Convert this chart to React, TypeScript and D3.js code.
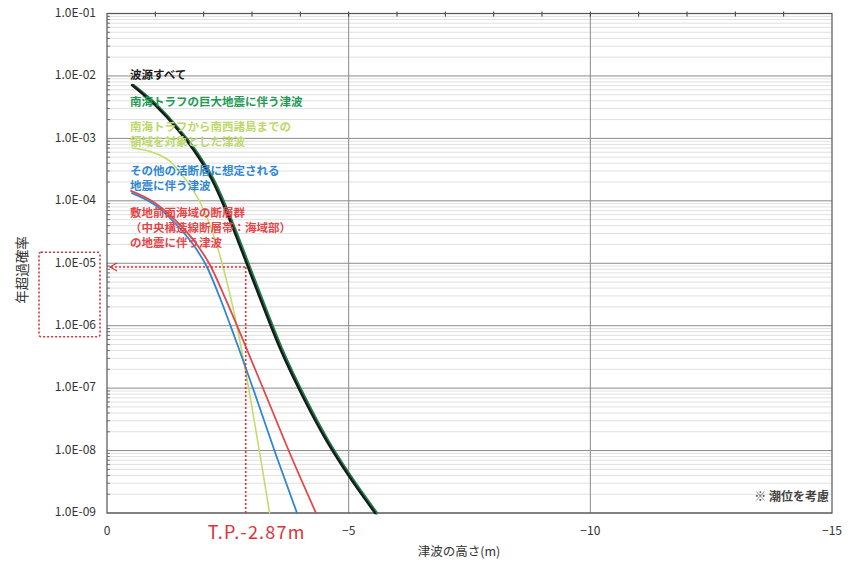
import React from "react";
import * as d3 from "d3";

const W = 848, H = 561;

// Tick labels
const yTicks = [1e-1, 1e-2, 1e-3, 1e-4, 1e-5, 1e-6, 1e-7, 1e-8, 1e-9];
const yTickLabels = ["1.0E-01", "1.0E-02", "1.0E-03", "1.0E-04", "1.0E-05", "1.0E-06", "1.0E-07", "1.0E-08", "1.0E-09"];
const xTicks = [0, -5, -10, -15];
const xTickLabels = ["0", "\u22125", "\u221210", "\u221215"];

// Series (tsunami height in m, annual exceedance probability)
const allH = [-0.517, -0.993, -1.469, -1.862, -2.173, -2.454, -2.702, -2.917, -3.18, -3.594, -4.086, -4.531, -4.96, -5.545];
const allP = [7.16e-3, 3.43e-3, 1.36e-3, 5.42e-4, 2.16e-4, 7.13e-5, 2.36e-5, 8.7e-6, 2.58e-6, 4.07e-7, 6.45e-8, 1.48e-8, 4.38e-9, 1.0e-9];

const nankaiH = [-0.547, -1.023, -1.499, -1.892, -2.203, -2.484, -2.732, -2.947, -3.21, -3.624, -4.116, -4.561, -4.99, -5.575];
const nankaiP = [7.0e-3, 3.4e-3, 1.35e-3, 5.4e-4, 2.15e-4, 7.1e-5, 2.35e-5, 8.7e-6, 2.58e-6, 4.07e-7, 6.45e-8, 1.48e-8, 4.38e-9, 1.0e-9];

const ryukyuH = [-0.538, -1.241, -1.635, -1.933, -2.191, -2.487, -2.717, -2.973, -3.184, -3.364];
const ryukyuP = [7.0e-4, 4.68e-4, 2.15e-4, 9.22e-5, 3.05e-5, 4.83e-6, 7.64e-7, 6.46e-8, 7.07e-9, 1.0e-9];

const otherH = [-0.517, -0.993, -1.407, -1.759, -2.069, -2.338, -2.648, -3.083, -3.497, -3.931];
const otherP = [1.33e-4, 8.57e-5, 4.41e-5, 2.11e-5, 8.71e-6, 2.78e-6, 6.36e-7, 7.21e-8, 8.49e-9, 1.0e-9];

const mtlH = [-0.497, -0.993, -1.448, -1.821, -2.131, -2.462, -2.814, -3.311, -3.807, -4.324];
const mtlP = [1.44e-4, 9.22e-5, 4.58e-5, 2.19e-5, 9.37e-6, 2.58e-6, 5.9e-7, 6.95e-8, 8.18e-9, 1.0e-9];

// Legend labels (lines per entry)
const legendLines = [
  ["波源すべて"],
  ["南海トラフの巨大地震に伴う津波"],
  ["南海トラフから南西諸島までの", "領域を対象とした津波"],
  ["その他の活断層に想定される", "地震に伴う津波"],
  ["敷地前面海域の断層群", "（中央構造線断層帯：海域部）", "の地震に伴う津波"],
];

// Annotation values
const targetH = -2.87;
const targetP = 8.7e-6;
const targetLabel = "T.P.-2.87m";
const noteLabel = "※ 潮位を考慮";
const xTitle = "津波の高さ(m)";
const yTitle = "年超過確率";

const FONT = "'Noto Sans CJK JP', 'Noto Sans', sans-serif";

export default function App() {
  const left = 107, right = 832, top = 13.5, bottom = 513;
  const x = d3.scaleLinear().domain([0, -15]).range([left, right]);
  const y = d3.scaleLog().domain([1e-1, 1e-9]).range([top, bottom]);

  const mk = (hs: number[], ps: number[]) => {
    const pts = hs.map((h, i) => [h, ps[i]] as [number, number]);
    return d3.line<[number, number]>().x(d => x(d[0])).y(d => y(d[1])).curve(d3.curveMonotoneX)(pts) || "";
  };

  const minor: number[] = [];
  for (let e = -9; e < -1; e++) {
    for (let m = 2; m <= 9; m++) minor.push(m * Math.pow(10, e));
  }
  const meterTicks = d3.range(-1, -15, -1);

  const series = [
    { h: ryukyuH, p: ryukyuP, color: "#c4dc6c", w: 1.6 },
    { h: otherH, p: otherP, color: "#2f86d2", w: 1.8 },
    { h: mtlH, p: mtlP, color: "#e4474a", w: 1.8 },
    { h: nankaiH, p: nankaiP, color: "#1e7d4a", w: 3.2 },
    { h: allH, p: allP, color: "#1a1a1a", w: 2.4 },
  ];

  const legendColors = ["#1a1a1a", "#1e9a55", "#bcd86a", "#2f86d2", "#e4474a"];
  const legendY = [76, 103, 128, 172, 214];

  const tx = x(targetH), ty = y(targetP);
  const red = "#d9343a";

  return (
    <svg width={W} height={H} style={{ position: "absolute", left: 0, top: 0, background: "#fff", fontFamily: FONT }}>
      <rect x={0} y={0} width={W} height={H} fill="#fff" />
      {/* minor grid */}
      {minor.map((v, i) => (
        <line key={"mn" + i} x1={left} x2={right} y1={y(v)} y2={y(v)} stroke="#d8d8d8" strokeWidth={0.8} />
      ))}
      {/* major grid */}
      {yTicks.map((v, i) => (
        <line key={"mj" + i} x1={left} x2={right} y1={y(v)} y2={y(v)} stroke="#8a8a8a" strokeWidth={1} />
      ))}
      {xTicks.slice(1, 3).map((v, i) => (
        <line key={"vx" + i} x1={x(v)} x2={x(v)} y1={top} y2={bottom} stroke="#8a8a8a" strokeWidth={1} />
      ))}
      {meterTicks.map((v, i) => (
        <line key={"mt" + i} x1={x(v)} x2={x(v)} y1={top - 2} y2={top + 3} stroke="#333" strokeWidth={1} />
      ))}
      {minor.map((v, i) => (
        <line key={"lt" + i} x1={left} x2={left + 3} y1={y(v)} y2={y(v)} stroke="#555" strokeWidth={0.8} />
      ))}
      <rect x={left} y={top} width={right - left} height={bottom - top} fill="none" stroke="#555" strokeWidth={1.2} />

      {/* curves */}
      {series.map((s, i) => (
        <path key={"s" + i} d={mk(s.h, s.p)} fill="none" stroke={s.color} strokeWidth={s.w} strokeLinecap="round" />
      ))}

      {/* legend */}
      {legendLines.map((lines, i) =>
        lines.map((t, j) => (
          <text key={"lg" + i + "-" + j} x={130} y={legendY[i] + j * 15} fontSize={11.5} fontWeight={700}
            fill={legendColors[i]} dominantBaseline="middle">{t}</text>
        ))
      )}

      {/* annotation */}
      <line x1={left + 4} x2={tx} y1={ty} y2={ty} stroke={red} strokeWidth={1.6} strokeDasharray="2,2" />
      <line x1={tx} x2={tx} y1={ty} y2={bottom} stroke={red} strokeWidth={1.6} strokeDasharray="2,2" />
      <path d={`M${left + 10},${ty - 4} L${left + 3},${ty} L${left + 10},${ty + 4}`} fill="none" stroke={red} strokeWidth={1.2} />
      <rect x={39} y={y(1e-5) - 11} width={61} height={y(1e-6) - y(1e-5) + 22} fill="none" stroke={red} strokeWidth={1.6} strokeDasharray="2,2" rx={2} />
      <text x={tx + 11} y={539} fontSize={18} fill={red} textAnchor="middle" letterSpacing={1.2}>{targetLabel}</text>

      {/* axes labels */}
      {yTicks.map((v, i) => (
        <text key={"yl" + i} x={96} y={y(v)} fontSize={12} fill="#333" textAnchor="end" dominantBaseline="middle">{yTickLabels[i]}</text>
      ))}
      {xTicks.map((v, i) => (
        <text key={"xl" + i} x={x(v)} y={535} fontSize={12} fill="#333" textAnchor="middle">{xTickLabels[i]}</text>
      ))}
      <text x={459} y={556} fontSize={12.5} fill="#333" textAnchor="middle">{xTitle}</text>
      <text transform={`translate(27,270) rotate(-90)`} fontSize={13.5} fill="#333" textAnchor="middle">{yTitle}</text>
      <text x={829} y={501} fontSize={12} fontWeight={700} fill="#444" textAnchor="end">{noteLabel}</text>
    </svg>
  );
}
